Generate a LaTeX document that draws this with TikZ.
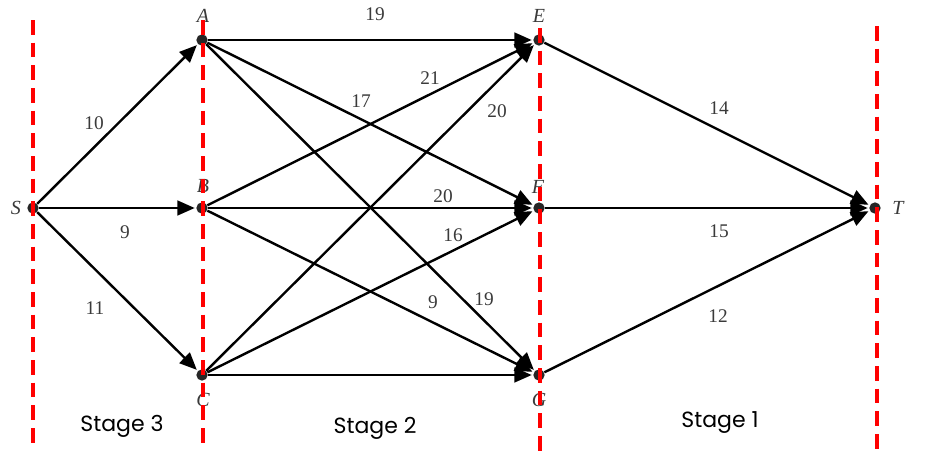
\documentclass[tikz,border=0pt]{standalone}
\usepackage{fontspec}
\setmainfont{Liberation Serif}
\newfontfamily\stagefont{Poppins}
\usetikzlibrary{arrows.meta}
\definecolor{lblgray}{HTML}{3A3A3A}
\tikzset{
  dot/.style={circle, fill=black!85, inner sep=0pt, minimum size=8.5pt},
  link/.style={draw, line width=1.8pt, -{Triangle[length=13pt,width=11pt]}, shorten >=1pt},
  wlabel/.style={text=lblgray, font=\fontsize{14.5}{16}\selectfont, inner sep=0pt},
  vlabel/.style={text=lblgray, font=\fontsize{15}{17}\itshape, inner sep=0pt},
  stagelbl/.style={font=\stagefont\fontsize{16.5}{18}\selectfont, inner sep=0pt},
  divider/.style={draw=red, line width=2.5pt, dash pattern=on 11pt off 6pt}
}
\begin{document}
\begin{tikzpicture}[x=0.75pt,y=-0.75pt]
\useasboundingbox (0,0) rectangle (933,454);
% vertices
\node[dot] (S) at (33,208) {};
\node[dot] (A) at (202,40) {};
\node[dot] (B) at (202,208) {};
\node[dot] (C) at (202,375) {};
\node[dot] (E) at (539,40) {};
\node[dot] (F) at (539,208) {};
\node[dot] (G) at (539,375) {};
\node[dot] (T) at (875,208) {};
% vertex names
\node[vlabel] (lS) at (16,208) {S};
\node[vlabel] (lA) at (203,16) {A};
\node[vlabel] (lB) at (203,186) {B};
\node[vlabel] (lC) at (203,400) {C};
\node[vlabel] (lE) at (539,16) {E};
\node[vlabel] (lF) at (538,187) {F};
\node[vlabel] (lG) at (539,400) {G};
\node[vlabel] (lT) at (898,208) {T};
% connectors
\draw[link] (S) -- (A);
\draw[link] (S) -- (B);
\draw[link] (S) -- (C);
\draw[link] (A) -- (E);
\draw[link] (A) -- (F);
\draw[link] (A) -- (G);
\draw[link] (B) -- (E);
\draw[link] (B) -- (F);
\draw[link] (B) -- (G);
\draw[link] (C) -- (E);
\draw[link] (C) -- (F);
\draw[link] (C) -- (G);
\draw[link] (E) -- (T);
\draw[link] (F) -- (T);
\draw[link] (G) -- (T);
% weights
\node[wlabel] (w1) at (94,123) {10};
\node[wlabel] (w2) at (125,232) {9};
\node[wlabel] (w3) at (95,308) {11};
\node[wlabel] (w4) at (375,14) {19};
\node[wlabel] (w5) at (430,78) {21};
\node[wlabel] (w6) at (361,101) {17};
\node[wlabel] (w7) at (497,111) {20};
\node[wlabel] (w8) at (443,196) {20};
\node[wlabel] (w9) at (453,235) {16};
\node[wlabel] (w10) at (433,302) {9};
\node[wlabel] (w11) at (484,299) {19};
\node[wlabel] (w12) at (719,108) {14};
\node[wlabel] (w13) at (719,231) {15};
\node[wlabel] (w14) at (718,316) {12};
% stage dividers
\draw[divider] (33,20) -- (33,445);
\draw[divider] (203,20) -- (203,445);
\draw[divider] (540,28) -- (540,452);
\draw[divider] (877,26) -- (877,452);
% stage names
\node[stagelbl] (st3) at (122,426) {Stage 3};
\node[stagelbl] (st2) at (375,428) {Stage 2};
\node[stagelbl] (st1) at (720,423) {Stage 1};
\end{tikzpicture}
\end{document}
